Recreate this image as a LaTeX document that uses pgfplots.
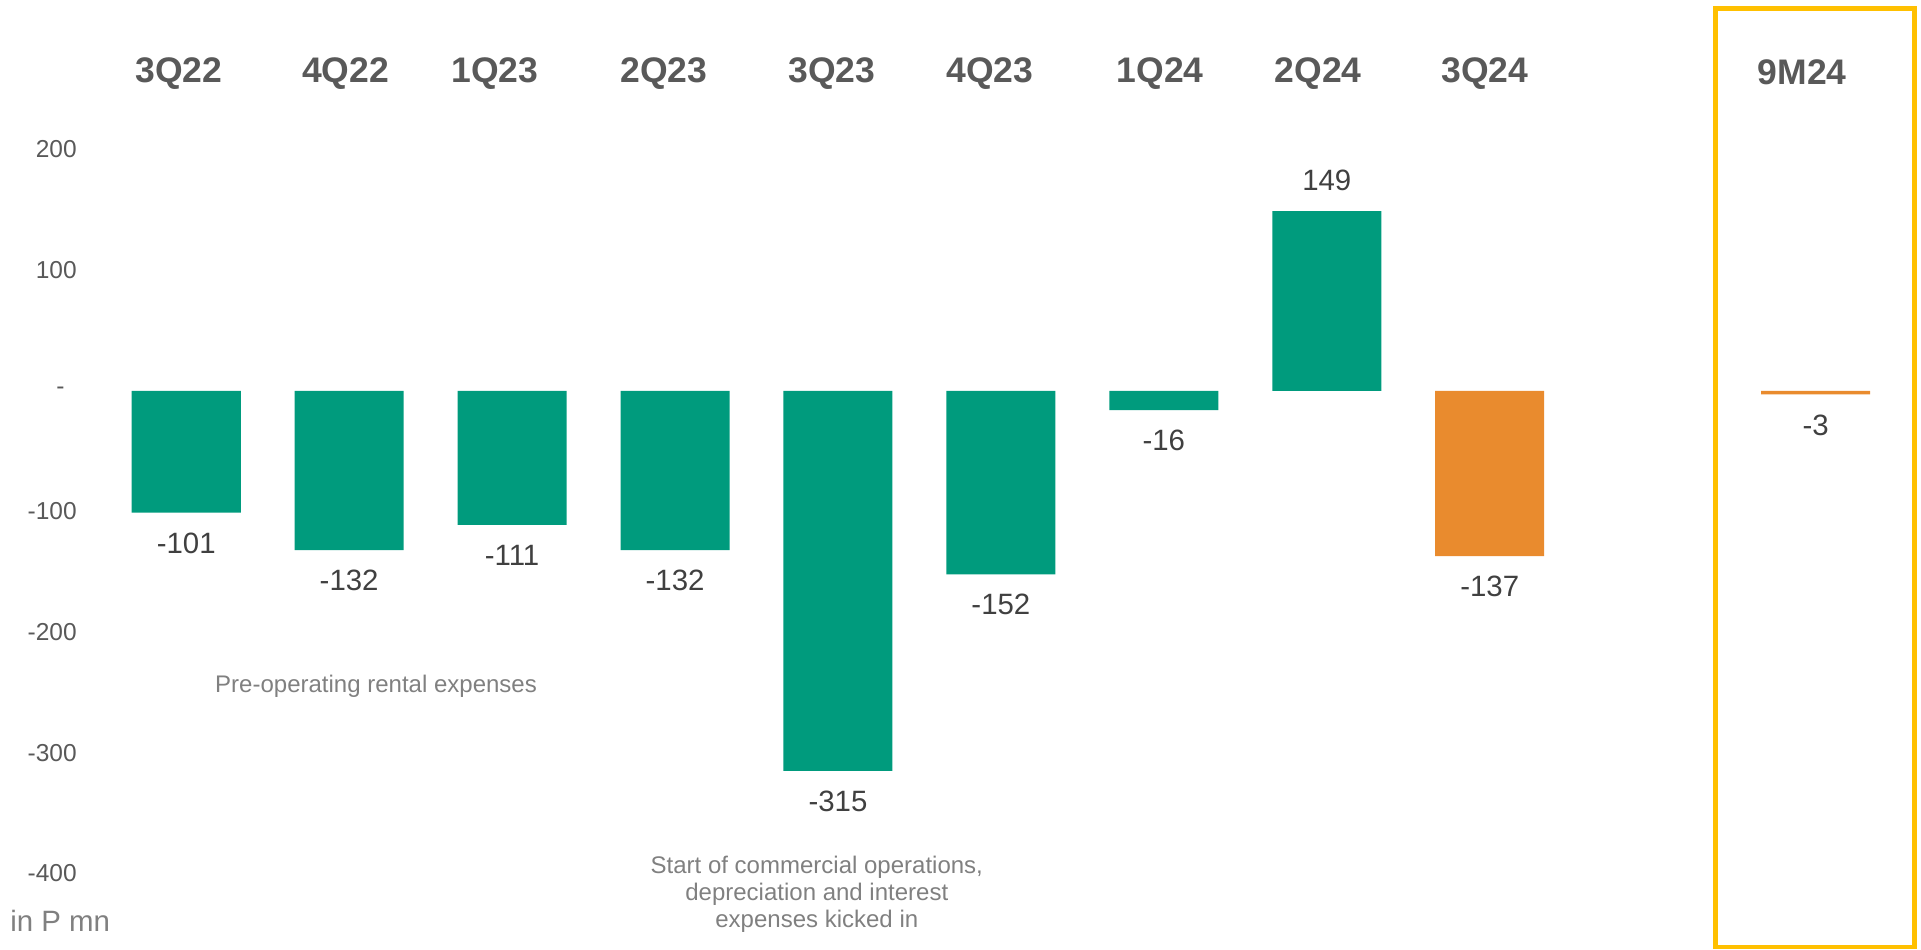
\documentclass[border=0pt]{standalone}
\usepackage{fontspec}
\setmainfont{Liberation Sans}
\usepackage{pgfplots}
\pgfplotsset{compat=1.18}

\definecolor{barGreen}{RGB}{0,155,125}
\definecolor{barOrange}{RGB}{233,139,46}
\definecolor{boxYellow}{RGB}{255,192,0}
\definecolor{catGray}{RGB}{89,89,89}
\definecolor{valGray}{RGB}{64,64,64}
\definecolor{noteGray}{RGB}{128,128,128}

% category label nudged by (#1/2, #2/2)
\newcommand{\cl}[3]{\raisebox{#2}{\makebox[0pt]{\hspace*{#1}#3}}}

\begin{document}
\begin{tikzpicture}
\begin{axis}[
    scale only axis,
    x=66.5pt, y=0.4925pt,
    xmin=-1.143, xmax=10.647,
    ymin=-462.9, ymax=323.9,
    clip=false,
    axis line style={draw=none},
    tick style={draw=none},
    xtick={0,1,2,3,4,5,6,7,8,10},
    xticklabels={\cl{-6pt}{0pt}{3Q22},\cl{-3pt}{0pt}{4Q22},\cl{-14pt}{-2pt}{1Q23},
                 \cl{-9pt}{-3pt}{2Q23},\cl{-5pt}{2pt}{3Q23},\cl{-9pt}{2pt}{4Q23},
                 \cl{-3pt}{-2pt}{1Q24},\cl{-7pt}{2pt}{2Q24},\cl{-4pt}{2pt}{3Q24},
                 \cl{-11pt}{2pt}{9M24}},
    xticklabel pos=upper,
    xticklabel style={anchor=center, yshift=-34.5pt, font=\fontsize{14.5}{16}\selectfont\bfseries, text=catGray},
    ytick={-400,-300,-200,-100,0,100,200},
    yticklabels={-400,-300,-200,-100,{-\hspace*{5pt}},100,200},
    yticklabel style={anchor=east, inner sep=0pt, xshift=31.5pt, font=\fontsize{10}{12}\selectfont, text=catGray},
    ybar, bar width=44.5pt, bar shift=0pt,
    nodes near coords={\pgfmathprintnumber[assume math mode=true]{\pgfplotspointmeta}},
    nodes near coords align={vertical},
    every node near coord/.append style={font=\fontsize{12}{14}\selectfont, text=valGray, inner sep=8pt},
]
% quarterly results
\addplot[draw=none, fill=barGreen] coordinates {
    (0,-101) (1,-132) (2,-111) (3,-132) (4,-315) (5,-152) (6,-16) (7,149)
};
% latest quarter and 9M total
\addplot[draw=none, fill=barOrange] coordinates {
    (8,-137) (10,-3)
};

\draw[boxYellow, line width=2pt] (axis cs:9.383,316.8) rectangle (axis cs:10.609,-460.9);

\node[font=\fontsize{9.8}{11}\selectfont, text=noteGray] at (axis cs:1.165,-244.7) {Pre-operating rental expenses};
\node[font=\fontsize{9.8}{11}\selectfont, text=noteGray, align=center] at (axis cs:3.87,-417)
    {Start of commercial operations,\\depreciation and interest\\expenses kicked in};
\node[font=\fontsize{12}{14}\selectfont, text=noteGray, anchor=west, inner sep=0pt] at (axis cs:-1.083,-439.6) {in P mn};
\end{axis}
\pgfresetboundingbox
\path (current axis.south west) rectangle (current axis.north east);
\end{tikzpicture}
\end{document}
